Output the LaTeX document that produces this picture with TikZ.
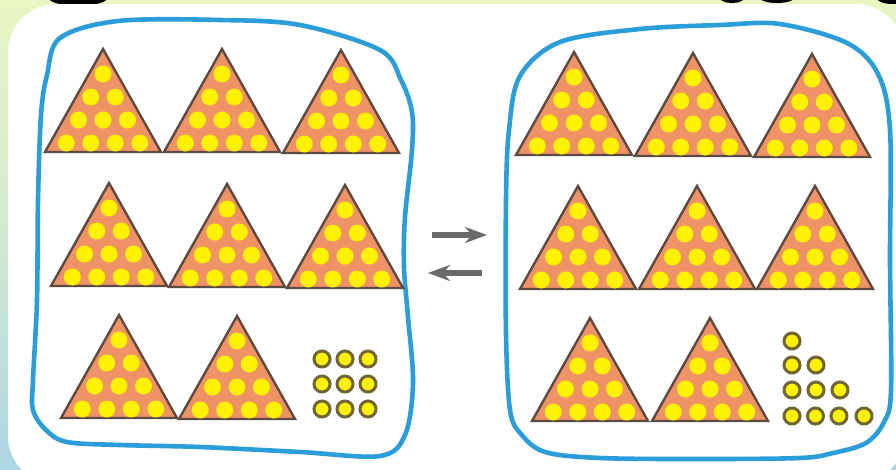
\documentclass[tikz,border=0pt]{standalone}
\usetikzlibrary{arrows.meta}
\definecolor{bgtop}{HTML}{E9F6C2}
\definecolor{bgbot}{HTML}{ADD6E4}
\definecolor{loopblue}{HTML}{2B9DD9}
\definecolor{trifill}{HTML}{EF9366}
\definecolor{triline}{HTML}{5C4B43}
\definecolor{dotyel}{HTML}{FFF200}
\definecolor{dotline}{HTML}{6F6535}
\definecolor{arrgray}{HTML}{6A6A6A}
\tikzset{
  tri/.style={fill=trifill,draw=triline,line width=2.4pt,line join=miter},
  dotc/.style={fill=dotyel},
  loosedot/.style={fill=dotyel,draw=dotline,line width=3pt},
  loopline/.style={draw=loopblue,line width=4.6pt},
  arr/.style={draw=arrgray,line width=5.5pt,-{Stealth[length=22pt,width=16pt,inset=7pt]}}
}
\newcommand\tri[2]{%
  \draw[tri] (#1,#2) -- ++(58,103) -- ++(-116,0) -- cycle;
  \foreach \r in {0,...,3}{\foreach \k in {0,...,\r}{%
    \fill[dotc] ({#1+(\k-\r/2)*24.5},{#2+25+\r*23}) circle (8.5pt);}}%
}
\begin{document}
\begin{tikzpicture}[x=1pt,y=-1pt]
\useasboundingbox (0,0) rectangle (896,469);
% background
\shade[top color=bgtop,bottom color=bgbot,middle color=bgtop!60!bgbot] (0,0) rectangle (896,469);
\fill[black] (78,-3) ellipse [x radius=30pt,y radius=9pt];
\fill[black] (732,-3) ellipse [x radius=13pt,y radius=6pt];
\fill[black] (777,-3) ellipse [x radius=18pt,y radius=6pt];
\fill[black] (892,-3) ellipse [x radius=16pt,y radius=7pt];
\fill[white,rounded corners=48pt] (8,4) rectangle (904,484);
% loops
\draw[loopline] plot[smooth cycle,tension=0.55] coordinates {
 (118,21) (220,20) (300,25) (380,50) (401,80) (412,112) (412,150)
 (405,217) (404,267) (408,317) (413,383) (405,435) (380,456)
 (300,452) (200,447) (120,445) (67,442) (46,430) (33,410) (33,380)
 (37,300) (38,200) (41,115) (47,75) (60,38)};
\draw[loopline] plot[smooth cycle,tension=0.55] coordinates {
 (640,29) (720,25) (780,24) (847,43) (878,74) (890,130) (890,260)
 (891,390) (884,422) (866,443) (833,453) (800,458) (700,459)
 (600,458) (545,452) (521,434) (510,410) (506,333) (506,200)
 (509,130) (520,76) (560,42)};
% left group
\tri{103}{49}\tri{222}{49}\tri{341}{50}
\tri{109}{183}\tri{227}{184}\tri{345}{185}
\tri{119}{315}\tri{237}{316}
\foreach \i in {0,1,2}{\foreach \j in {0,1,2}{%
  \draw[loosedot] ({322+\i*23},{359+\j*25}) circle (8pt);}}
% right group
\tri{574}{52}\tri{693}{53}\tri{812}{54}
\tri{578}{186}\tri{697}{186}\tri{815}{186}
\tri{590}{318}\tri{710}{318}
\draw[loosedot] (792,341) circle (8pt);
\foreach \i in {0,1}{\draw[loosedot] ({792+\i*24},365) circle (8pt);}
\foreach \i in {0,1,2}{\draw[loosedot] ({792+\i*24},390) circle (8pt);}
\foreach \i in {0,1,2}{\draw[loosedot] ({792+\i*23.5},416) circle (8pt);}
\draw[loosedot] (864,416) circle (8pt);
% arrows
\coordinate (r1) at (432,235); \coordinate (r2) at (487,235);
\coordinate (l1) at (482,273); \coordinate (l2) at (428,273);
\draw[arr] (r1) -- (r2);
\draw[arr] (l1) -- (l2);
\end{tikzpicture}
\end{document}
